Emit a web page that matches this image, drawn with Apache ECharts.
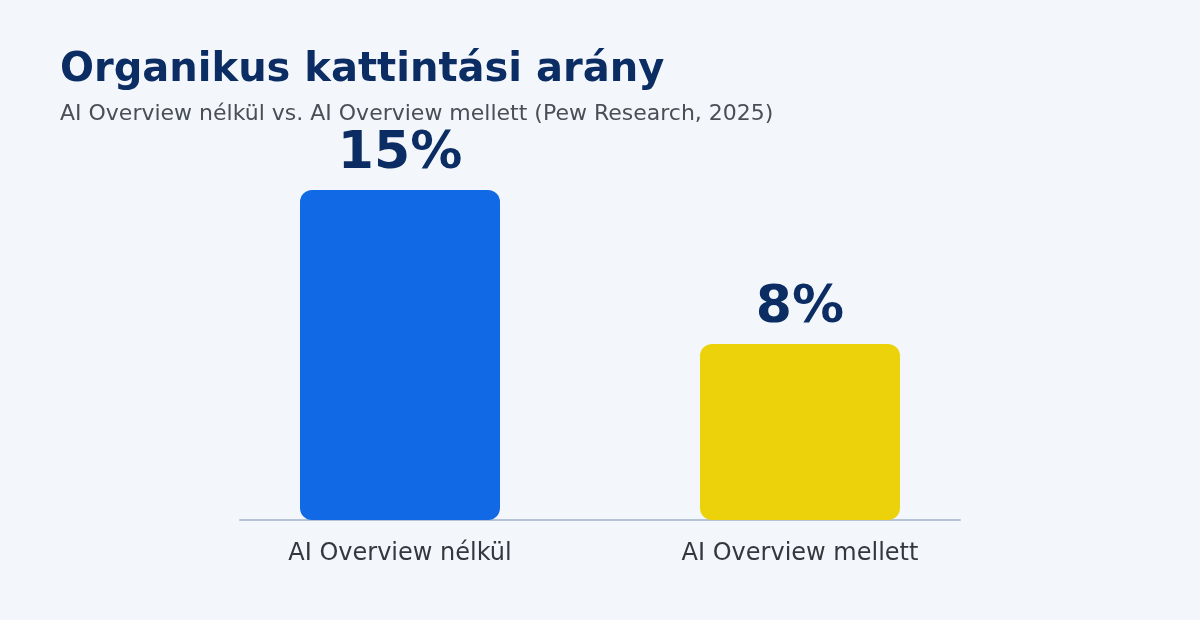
<!DOCTYPE html>
<html>
<head>
<meta charset="utf-8">
<script src="https://cdn.jsdelivr.net/npm/echarts@6/dist/echarts.min.js"></script>
<style>
  html, body { margin: 0; padding: 0; background: #f3f7fb; }
  #chart { width: 1200px; height: 620px; }
</style>
</head>
<body>
<div id="chart"></div>
<script>
var categories = ["AI Overview nélkül", "AI Overview mellett"];
var values = [15, 8];
var barColors = ["#1169e6", "#ebd20a"];

var chart = echarts.init(document.getElementById("chart"));

var seriesData = [];
for (var i = 0; i < values.length; i++) {
    seriesData.push({
        value: values[i],
        itemStyle: { color: barColors[i] }
    });
}

var option = {
    backgroundColor: "#f3f7fb",
    animation: false,
    textStyle: { fontFamily: "DejaVu Sans" },
    title: {
        text: "Organikus kattintási arány",
        subtext: "AI Overview nélkül vs. AI Overview mellett (Pew Research, 2025)",
        left: 55,
        top: 46,
        itemGap: 12,
        textStyle: { fontSize: 40, fontWeight: "bold", color: "#0b2d63", fontFamily: "DejaVu Sans" },
        subtextStyle: { fontSize: 22, color: "#4a4f57", fontFamily: "DejaVu Sans" }
    },
    // grid 0 holds the bars, grid 1 only draws the shorter baseline
    grid: [
        { left: 200, right: 200, top: 80, bottom: 100 },
        { left: 240, right: 240, top: 80, bottom: 100 }
    ],
    xAxis: [{
        type: "category",
        gridIndex: 0,
        data: categories,
        axisLine: { show: false },
        axisTick: { show: false },
        axisLabel: { fontSize: 24, color: "#333840", margin: 22 }
    }, {
        type: "category",
        gridIndex: 1,
        data: categories,
        axisLine: { lineStyle: { color: "#b4c3d6", width: 2 } },
        axisTick: { show: false },
        axisLabel: { show: false },
        z: 1
    }],
    yAxis: [{
        type: "value",
        gridIndex: 0,
        min: 0,
        max: 20,
        show: false
    }, {
        type: "value",
        gridIndex: 1,
        min: 0,
        max: 20,
        show: false
    }],
    series: [{
        type: "bar",
        xAxisIndex: 0,
        yAxisIndex: 0,
        data: seriesData,
        barWidth: 200,
        z: 3,
        itemStyle: { borderRadius: 12 },
        label: {
            show: true,
            position: "top",
            distance: 10,
            formatter: "{c}%",
            fontSize: 52,
            fontWeight: "bold",
            color: "#0b2d63"
        }
    }]
};

chart.setOption(option);
</script>
</body>
</html>
